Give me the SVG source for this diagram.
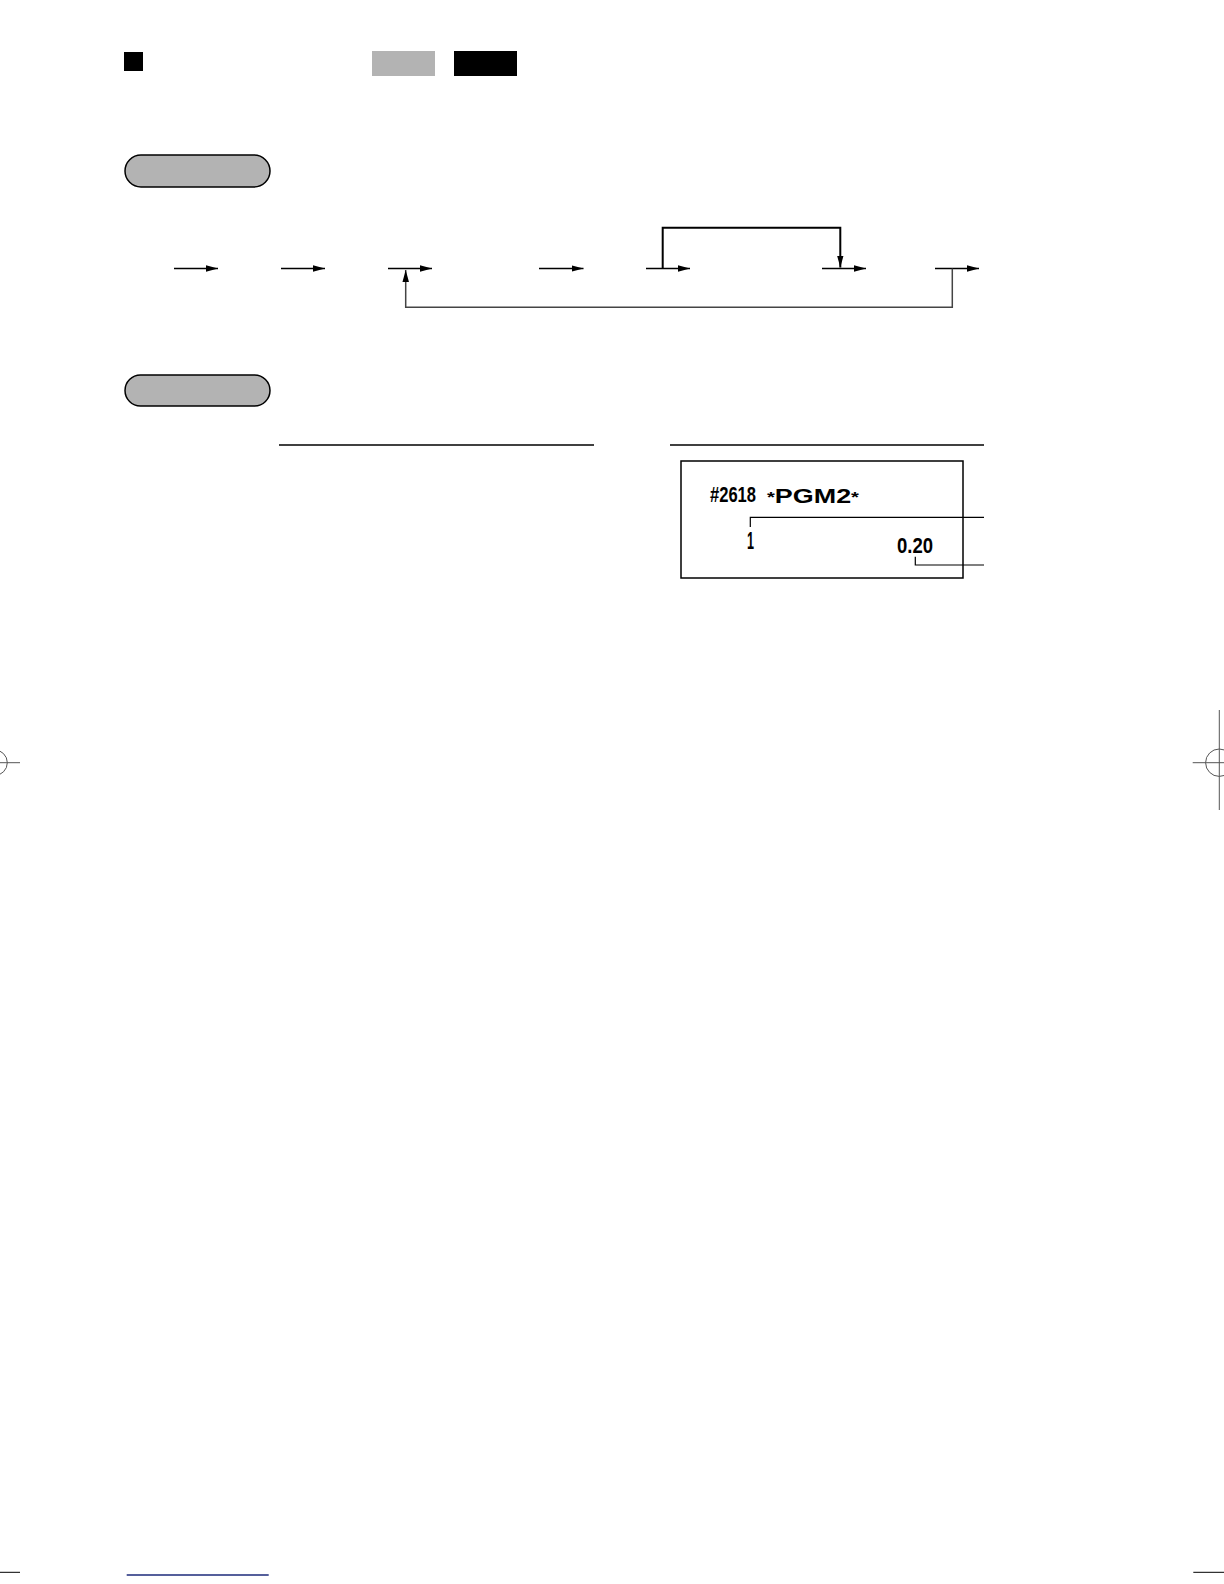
<svg xmlns="http://www.w3.org/2000/svg" width="1224" height="1584" viewBox="0 0 1224 1584">
<style>
.ln{fill:none;stroke:#000;stroke-width:1.5}
.pill{fill:#b3b3b3;stroke:#000;stroke-width:1.5}
.rc{font-family:"Liberation Sans",Arial,sans-serif;fill:#000;font-weight:bold}
.crop{fill:none;stroke:#555;stroke-width:1}
</style>
<defs>
<marker id="ah" markerUnits="userSpaceOnUse" markerWidth="13" markerHeight="7" refX="12" refY="3.25" orient="auto">
<path d="M0,0 L12,3.25 L0,6.5 Z" fill="#000"/>
</marker>
</defs>
<g id="header">
<rect x="124" y="52" width="19" height="19" fill="#000"/>
<rect x="372" y="51" width="63" height="25" fill="#b3b3b3"/>
<rect x="454" y="51" width="63" height="25" fill="#000"/>
</g>
<g id="pill1"><rect class="pill" x="125" y="155" width="145" height="32" rx="16"/></g>
<g id="pill2"><rect class="pill" x="125" y="375" width="145" height="31" rx="15.5"/></g>
<g id="connectors">
<path class="ln" d="M174,268.5 H218" marker-end="url(#ah)"/>
<path class="ln" d="M281,268.5 H325" marker-end="url(#ah)"/>
<path class="ln" d="M388,268.5 H432" marker-end="url(#ah)"/>
<path class="ln" d="M539,268.5 H583.5" marker-end="url(#ah)"/>
<path class="ln" d="M646,268.5 H690" marker-end="url(#ah)"/>
<path class="ln" d="M822,268.5 H866" marker-end="url(#ah)"/>
<path class="ln" d="M935,268.5 H979" marker-end="url(#ah)"/>
<path fill="none" stroke="#000" stroke-width="2" d="M662.7,268.5 V227.7 H840.3 V267.5" marker-end="url(#ah)"/>
<path fill="none" stroke="#444" stroke-width="1.5" d="M952.3,268.5 V307.3 H405.7 V270" marker-end="url(#ah)"/>
</g>
<g id="rules">
<line class="ln" x1="279" y1="445" x2="594" y2="445"/>
<line class="ln" x1="670" y1="445" x2="984" y2="445"/>
</g>
<g id="receipt">
<rect x="681" y="461" width="282" height="117" fill="none" stroke="#000" stroke-width="1.5"/>
<text class="rc" x="710" y="501.5" font-size="22" textLength="46" lengthAdjust="spacingAndGlyphs">#2618</text>
<text class="rc" x="767" y="503" font-size="20" textLength="92" lengthAdjust="spacingAndGlyphs"><tspan font-size="15" dy="-1">*</tspan><tspan dy="1">PGM2</tspan><tspan font-size="15" dy="-1">*</tspan></text>
<text class="rc" x="747" y="548.5" font-size="23" textLength="7" lengthAdjust="spacingAndGlyphs">1</text>
<text class="rc" x="897" y="553.3" font-size="22" textLength="36" lengthAdjust="spacingAndGlyphs">0.20</text>
<path fill="none" stroke="#000" stroke-width="1.2" d="M750.3,527 V517.3 H984"/>
<path fill="none" stroke="#000" stroke-width="1.2" d="M915.3,556.7 V565 H984"/>
</g>
<g id="cropmarks">
<circle class="crop" cx="-5.5" cy="762.7" r="12.8"/>
<line class="crop" x1="0" y1="762.7" x2="20" y2="762.7" stroke="#999"/>
<circle class="crop" cx="1219.3" cy="762.7" r="13.7"/>
<line class="crop" x1="1192.7" y1="762.7" x2="1224" y2="762.7" stroke="#999"/>
<line class="crop" x1="1219.3" y1="710" x2="1219.3" y2="810"/>
<line x1="0" y1="1572.3" x2="20" y2="1572.3" stroke="#000" stroke-width="1"/>
<line x1="1193.3" y1="1572.3" x2="1224" y2="1572.3" stroke="#000" stroke-width="1"/>
<line x1="126.7" y1="1575" x2="268.7" y2="1575" stroke="#1c2a7a" stroke-width="1.3"/>
</g>
</svg>
